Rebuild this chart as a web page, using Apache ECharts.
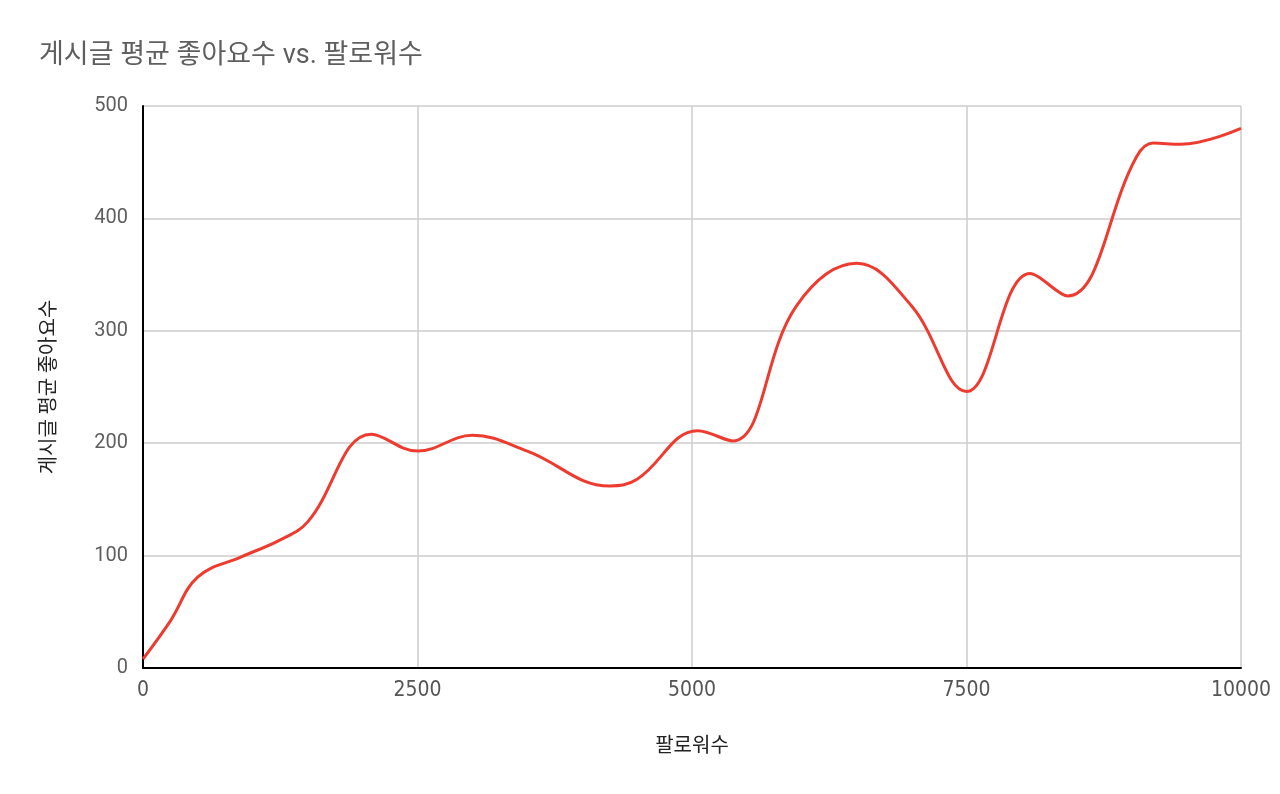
<!DOCTYPE html>
<html>
<head>
<meta charset="utf-8">
<script src="https://cdn.jsdelivr.net/npm/echarts@6/dist/echarts.min.js"></script>
<style>
  html, body { margin: 0; padding: 0; background: #fff; }
  #chart { width: 1280px; height: 794px; }
</style>
</head>
<body>
<div id="chart"></div>
<script>
// 팔로워수 (x) and 게시글 평균 좋아요수 (y)
var followers = [0, 250, 500, 900, 1250, 1500, 2080, 2500, 3000, 3500, 4250, 4500, 5050, 5370, 5950, 6500, 7000, 7500, 8080, 8420, 9050, 9200, 9450, 10000];
var likes     = [8, 42, 81, 99, 114, 130, 208, 193, 207, 193, 162, 168, 211, 202, 322, 360, 322, 246, 351, 331, 455, 467, 466, 480];
var xTicks = [0, 2500, 5000, 7500, 10000];
var yTicks = [0, 100, 200, 300, 400, 500];

var points = followers.map(function (f, i) { return [f, likes[i]]; });

var chart = echarts.init(document.getElementById('chart'));
var option = {
  backgroundColor: '#fff',
  animation: false,
  title: {
    text: '게시글 평균 좋아요수 vs. 팔로워수',
    left: 34,
    top: 38,
    textStyle: { fontFamily: "Roboto, 'Noto Sans CJK KR'", fontSize: 27, fontWeight: 'normal', color: '#5f5f5f' }
  },
  grid: { left: 143, right: 39, top: 106, bottom: 126 },
  xAxis: {
    type: 'value',
    min: xTicks[0],
    max: xTicks[xTicks.length - 1],
    interval: 2500,
    name: '팔로워수',
    nameLocation: 'middle',
    nameGap: 66,
    nameTextStyle: { fontFamily: "'Noto Sans CJK KR'", fontSize: 20, color: '#222', verticalAlign: 'top' },
    axisLine: { lineStyle: { color: '#000', width: 2 } },
    axisTick: { show: false },
    axisLabel: {
      margin: 12,
      fontFamily: "'DejaVu Sans Condensed', 'Liberation Sans Narrow', Roboto",
      fontSize: 21,
      color: '#555',
      formatter: function (v) { return String(v); }
    },
    splitLine: { show: true, lineStyle: { color: '#cccccc', width: 1.5 } }
  },
  yAxis: {
    type: 'value',
    min: yTicks[0],
    max: yTicks[yTicks.length - 1],
    interval: 100,
    name: '게시글 평균 좋아요수',
    nameLocation: 'middle',
    nameGap: 86,
    nameRotate: 90,
    nameTextStyle: { fontFamily: "'Noto Sans CJK KR'", fontSize: 20, color: '#222' },
    axisLine: { show: true, lineStyle: { color: '#000', width: 2 } },
    axisTick: { show: false },
    axisLabel: { margin: 15, fontFamily: "Roboto", fontSize: 20, color: '#5f5f5f' },
    splitLine: { show: true, lineStyle: { color: '#cccccc', width: 1.5 } }
  },
  series: [{
    type: 'line',
    data: points,
    smooth: 0.4,
    showSymbol: false,
    lineStyle: { color: '#ee3b30', width: 3 },
    itemStyle: { color: '#ee3b30' }
  }]
};
chart.setOption(option);
</script>
</body>
</html>
